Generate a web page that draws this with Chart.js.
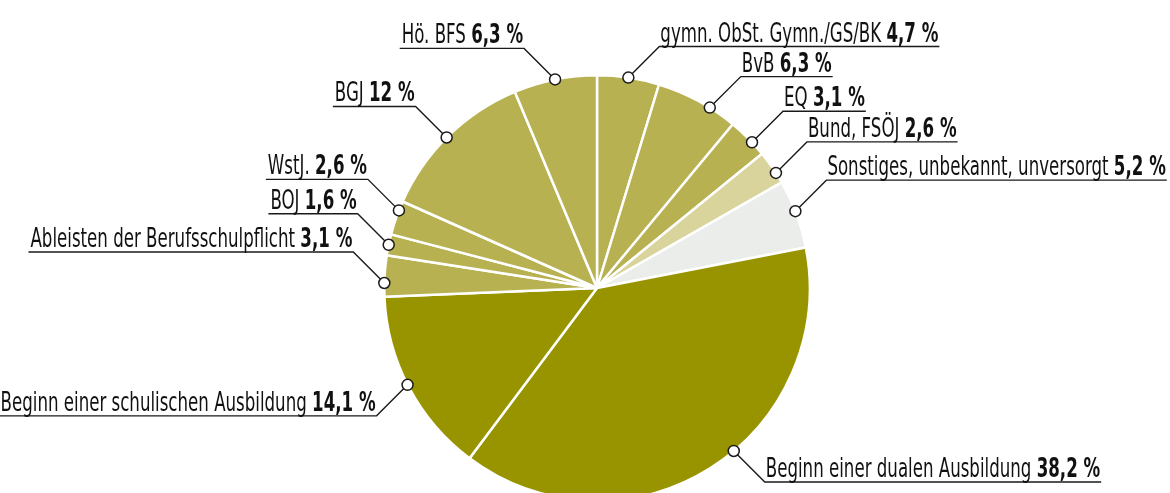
<!DOCTYPE html>
<html>
<head>
<meta charset="utf-8">
<script src="https://cdn.jsdelivr.net/npm/chart.js@4/dist/chart.umd.min.js"></script>
<style>
  html, body { margin: 0; padding: 0; background: #fff; overflow: hidden; }
  #wrap { position: relative; width: 1170px; height: 502px; }
</style>
</head>
<body>
<div id="wrap"><canvas id="pie"></canvas></div>
<script>
// slices clockwise from 12 o'clock
const labels = [
  'gymn. ObSt. Gymn./GS/BK',
  'BvB',
  'EQ',
  'Bund, FSÖJ',
  'Sonstiges, unbekannt, unversorgt',
  'Beginn einer dualen Ausbildung',
  'Beginn einer schulischen Ausbildung',
  'Ableisten der Berufsschulpflicht',
  'BOJ',
  'WstJ.',
  'BGJ',
  'Hö. BFS'
];
const shares = [4.7, 6.3, 3.1, 2.6, 5.2, 38.2, 14.1, 3.1, 1.6, 2.6, 12, 6.3];

const mid = '#b8b152';
const sliceColors = [mid, mid, mid, '#d8d49c', '#ebedea', '#989400', '#989400', mid, mid, mid, mid, mid];

// small shifts (degrees) of the label dots away from the slice middle
const dotShift = [0, 3.7, 1.5, 1.7, -0.8, -7.9, 0.7, -1.9, 0, 2.1, -0.6, 0];

const FONT = '"DejaVu Sans Condensed", "Liberation Sans Narrow", sans-serif';
const SIZE = 27;
const SQUEEZE = 0.685;

function fmt(v) {
  return String(v).replace('.', ',') + ' %';
}

const leaderLabels = {
  id: 'leaderLabels',
  afterDatasetsDraw(chart) {
    const ctx = chart.ctx;
    const meta = chart.getDatasetMeta(0);
    ctx.save();
    meta.data.forEach((arc, i) => {
      const p = arc.getProps(['x', 'y', 'startAngle', 'endAngle', 'outerRadius'], true);
      const a = (p.startAngle + p.endAngle) / 2 + dotShift[i] * Math.PI / 180;
      const mx = p.x + Math.cos(a) * p.outerRadius;
      const my = p.y + Math.sin(a) * p.outerRadius;
      const sx = mx < p.x ? -1 : 1;
      const sy = my < p.y ? -1 : 1;
      const ax = mx + sx * 31;
      const ay = my + sy * 31;

      const name = labels[i] + ' ';
      const val = fmt(shares[i]);
      ctx.font = SIZE + 'px ' + FONT;
      const w1 = ctx.measureText(name).width * SQUEEZE;
      ctx.font = 'bold ' + SIZE + 'px ' + FONT;
      const w2 = ctx.measureText(val).width * SQUEEZE;
      const tw = w1 + w2;
      const tx = sx > 0 ? ax + 1 : ax - 1 - tw;
      const lineEnd = sx > 0 ? ax + tw + 2 : ax - tw - 3;

      // leader line + underline
      ctx.strokeStyle = '#1a1a1a';
      ctx.lineWidth = 1.4;
      ctx.beginPath();
      ctx.moveTo(mx, my);
      ctx.lineTo(ax, ay);
      ctx.lineTo(lineEnd, ay);
      ctx.stroke();

      // text
      ctx.fillStyle = '#111';
      ctx.textBaseline = 'alphabetic';
      ctx.textAlign = 'left';
      ctx.save();
      ctx.translate(tx, ay - 5);
      ctx.scale(SQUEEZE, 1);
      ctx.font = SIZE + 'px ' + FONT;
      ctx.fillText(name, 0, 0);
      ctx.font = 'bold ' + SIZE + 'px ' + FONT;
      ctx.fillText(val, w1 / SQUEEZE, 0);
      ctx.restore();

      // marker
      ctx.beginPath();
      ctx.arc(mx, my, 5.5, 0, Math.PI * 2);
      ctx.fillStyle = '#fff';
      ctx.fill();
      ctx.lineWidth = 1.5;
      ctx.stroke();
    });
    ctx.restore();
  }
};

new Chart(document.getElementById('pie'), {
  type: 'pie',
  data: {
    labels: labels,
    datasets: [{
      data: shares,
      backgroundColor: sliceColors,
      borderColor: '#ffffff',
      borderWidth: 2.5
    }]
  },
  options: {
    responsive: true,
    maintainAspectRatio: false,
    animation: false,
    layout: { padding: { top: 74, left: 383, right: 359, bottom: 0 } },
    plugins: {
      legend: { display: false },
      tooltip: { enabled: false }
    }
  },
  plugins: [leaderLabels]
});
</script>
</body>
</html>
